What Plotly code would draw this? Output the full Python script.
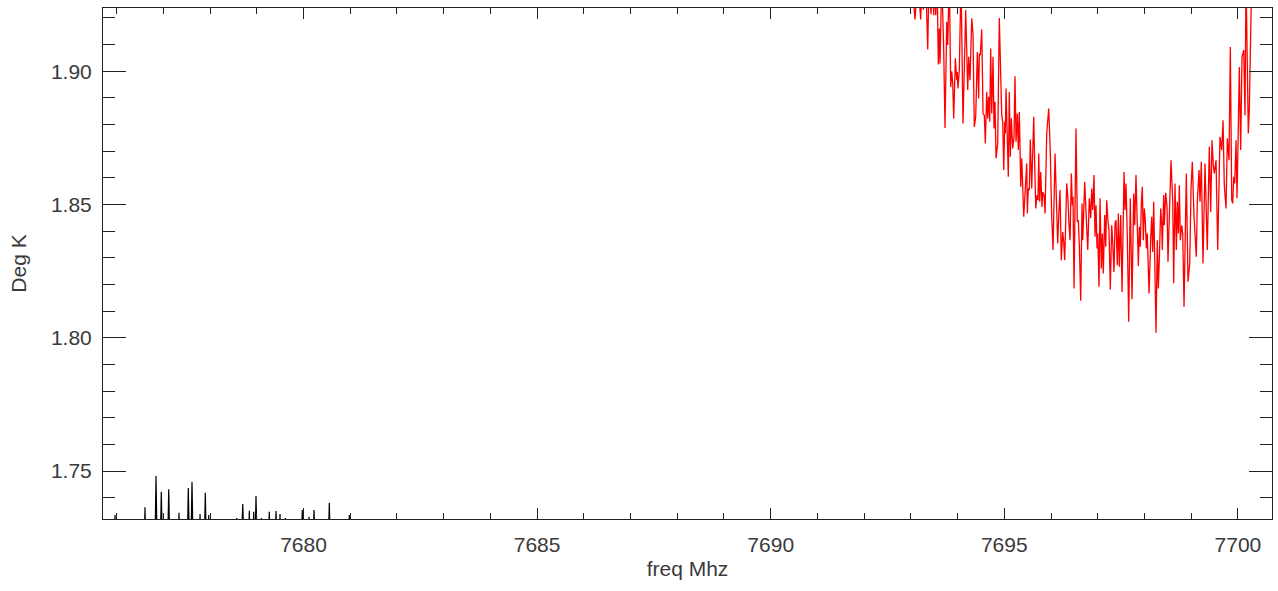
import plotly.graph_objects as go

# ---- data ----
red_freq = [
    7693.018, 7693.089, 7693.147, 7693.211, 7693.239, 7693.267, 7693.318, 7693.361, 7693.389, 7693.432,
    7693.459, 7693.489, 7693.511, 7693.532, 7693.560, 7693.588, 7693.609, 7693.624, 7693.661, 7693.703,
    7693.731, 7693.768, 7693.789, 7693.823, 7693.853, 7693.875, 7693.896, 7693.917, 7693.952, 7693.982,
    7693.994, 7694.009, 7694.037, 7694.074, 7694.116, 7694.174, 7694.217, 7694.238, 7694.266, 7694.303,
    7694.330, 7694.358, 7694.388, 7694.423, 7694.452, 7694.465, 7694.487, 7694.517, 7694.545, 7694.572,
    7694.594, 7694.624, 7694.645, 7694.667, 7694.688, 7694.709, 7694.731, 7694.759, 7694.780, 7694.801,
    7694.823, 7694.859, 7694.893, 7694.945, 7694.966, 7694.988, 7695.009, 7695.022, 7695.037, 7695.058,
    7695.086, 7695.107, 7695.129, 7695.150, 7695.180, 7695.208, 7695.229, 7695.251, 7695.279, 7695.300,
    7695.322, 7695.351, 7695.373, 7695.416, 7695.444, 7695.480, 7695.493, 7695.514, 7695.536, 7695.557,
    7695.587, 7695.630, 7695.651, 7695.673, 7695.700, 7695.722, 7695.737, 7695.758, 7695.780, 7695.807,
    7695.822, 7695.850, 7695.872, 7695.908, 7695.951, 7695.985, 7696.015, 7696.043, 7696.086, 7696.113,
    7696.143, 7696.171, 7696.193, 7696.220, 7696.250, 7696.272, 7696.293, 7696.336, 7696.364, 7696.385,
    7696.407, 7696.435, 7696.456, 7696.471, 7696.492, 7696.535, 7696.563, 7696.584, 7696.606, 7696.636,
    7696.664, 7696.679, 7696.700, 7696.721, 7696.786, 7696.820, 7696.850, 7696.871, 7696.893, 7696.920,
    7696.942, 7696.963, 7696.985, 7697.000, 7697.027, 7697.049, 7697.077, 7697.098, 7697.119, 7697.149,
    7697.171, 7697.192, 7697.220, 7697.241, 7697.269, 7697.299, 7697.321, 7697.348, 7697.370, 7697.391,
    7697.419, 7697.441, 7697.462, 7697.492, 7697.520, 7697.563, 7697.584, 7697.605, 7697.633, 7697.663,
    7697.697, 7697.734, 7697.770, 7697.792, 7697.819, 7697.847, 7697.869, 7697.890, 7697.911, 7697.933,
    7697.954, 7697.976, 7697.997, 7698.018, 7698.040, 7698.061, 7698.098, 7698.134, 7698.155, 7698.177,
    7698.198, 7698.220, 7698.247, 7698.275, 7698.297, 7698.318, 7698.348, 7698.369, 7698.382, 7698.412,
    7698.425, 7698.455, 7698.483, 7698.504, 7698.532, 7698.568, 7698.605, 7698.626, 7698.654, 7698.682,
    7698.703, 7698.725, 7698.746, 7698.768, 7698.797, 7698.819, 7698.847, 7698.896, 7698.932, 7698.969,
    7698.997, 7699.024, 7699.061, 7699.110, 7699.131, 7699.168, 7699.189, 7699.217, 7699.253, 7699.296,
    7699.345, 7699.388, 7699.418, 7699.446, 7699.474, 7699.495, 7699.532, 7699.568, 7699.617, 7699.654,
    7699.682, 7699.709, 7699.746, 7699.774, 7699.810, 7699.838, 7699.868, 7699.889, 7699.911, 7699.932,
    7699.960, 7699.981, 7700.009, 7700.030, 7700.060, 7700.088, 7700.125, 7700.152, 7700.174, 7700.195,
    7700.223, 7700.244, 7700.296,
]

red_temp = [
    1.935, 1.9194, 1.935, 1.9194, 1.935, 1.9231, 1.935, 1.9081, 1.935, 1.9214,
    1.935, 1.9210, 1.935, 1.9210, 1.935, 1.9025, 1.9160, 1.9029, 1.935, 1.9079,
    1.8787, 1.9185, 1.9098, 1.935, 1.8941, 1.9000, 1.8954, 1.8823, 1.9048, 1.8966,
    1.8997, 1.8935, 1.9004, 1.935, 1.8804, 1.9229, 1.8929, 1.9054, 1.8966, 1.9198,
    1.9141, 1.8791, 1.8829, 1.9072, 1.8898, 1.9066, 1.9060, 1.9156, 1.8841, 1.8835,
    1.8729, 1.8922, 1.8823, 1.8904, 1.8810, 1.9085, 1.8841, 1.9054, 1.8785, 1.8885,
    1.8673, 1.8729, 1.9199, 1.8835, 1.8810, 1.8629, 1.8810, 1.8766, 1.8935, 1.8823,
    1.8604, 1.8922, 1.8679, 1.8823, 1.8710, 1.8754, 1.8981, 1.8735, 1.8841, 1.8704,
    1.8847, 1.8566, 1.8673, 1.8454, 1.8566, 1.8654, 1.8466, 1.8560, 1.8554, 1.8744,
    1.8560, 1.8829, 1.8654, 1.8485, 1.8535, 1.8516, 1.8691, 1.8510, 1.8622, 1.8491,
    1.8547, 1.8535, 1.8466, 1.8766, 1.8860, 1.8691, 1.8454, 1.8329, 1.8691, 1.8516,
    1.8354, 1.8479, 1.8554, 1.8291, 1.8397, 1.8360, 1.8291, 1.8579, 1.8516, 1.8422,
    1.8366, 1.8616, 1.8497, 1.8529, 1.8185, 1.8785, 1.8435, 1.8441, 1.8347, 1.8139,
    1.8504, 1.8366, 1.8479, 1.8585, 1.8329, 1.8523, 1.8448, 1.8560, 1.8479, 1.8610,
    1.8379, 1.8497, 1.8335, 1.8391, 1.8191, 1.8523, 1.8260, 1.8391, 1.8241, 1.8460,
    1.8341, 1.8516, 1.8435, 1.8404, 1.8181, 1.8422, 1.8354, 1.8247, 1.8429, 1.8441,
    1.8272, 1.8466, 1.8266, 1.8460, 1.8172, 1.8622, 1.8479, 1.8579, 1.8379, 1.8060,
    1.8523, 1.8144, 1.8541, 1.8422, 1.8610, 1.8416, 1.8269, 1.8416, 1.8341, 1.8504,
    1.8566, 1.8366, 1.8485, 1.8441, 1.8335, 1.8391, 1.8166, 1.8373, 1.8454, 1.8322,
    1.8510, 1.8291, 1.8019, 1.8366, 1.8185, 1.8291, 1.8485, 1.8429, 1.8329, 1.8535,
    1.8422, 1.8544, 1.8491, 1.8285, 1.8504, 1.8666, 1.8516, 1.8204, 1.8579, 1.8329,
    1.8510, 1.8391, 1.8572, 1.8366, 1.8422, 1.8391, 1.8116, 1.8616, 1.8210, 1.8279,
    1.8560, 1.8660, 1.8454, 1.8304, 1.8510, 1.8629, 1.8510, 1.8660, 1.8279, 1.8654,
    1.8329, 1.8716, 1.8472, 1.8741, 1.8647, 1.8616, 1.8666, 1.8329, 1.8754, 1.8704,
    1.8816, 1.8572, 1.8485, 1.8748, 1.8666, 1.9091, 1.8516, 1.8504, 1.8604, 1.8579,
    1.8741, 1.8523, 1.8791, 1.9016, 1.8704, 1.9054, 1.9079, 1.8835, 1.935, 1.9016,
    1.8766, 1.8854, 1.935,
]

black_freq = [
    7675.945, 7675.965, 7675.985, 7676.587, 7676.607, 7676.627, 7676.818, 7676.843, 7676.868,
    7676.931, 7676.956, 7676.981, 7677.090, 7677.115, 7677.140, 7677.315, 7677.335, 7677.355,
    7677.509, 7677.534, 7677.559, 7677.588, 7677.613, 7677.638, 7677.765, 7677.785, 7677.805,
    7677.873, 7677.898, 7677.923, 7677.951, 7677.971, 7677.991, 7678.545, 7678.570, 7678.595,
    7678.664, 7678.699, 7678.734, 7678.815, 7678.840, 7678.865, 7678.909, 7678.934, 7678.959,
    7678.955, 7678.983, 7679.011, 7679.077, 7679.097, 7679.117, 7679.243, 7679.268, 7679.293,
    7679.386, 7679.411, 7679.436, 7679.477, 7679.497, 7679.517, 7679.591, 7679.611, 7679.631,
    7679.949, 7679.974, 7679.999, 7680.098, 7680.118, 7680.138, 7680.195, 7680.225, 7680.255,
    7680.527, 7680.552, 7680.577, 7680.960, 7680.980, 7681.000,
]

black_temp = [
    1.72, 1.7335, 1.72, 1.72, 1.7364, 1.72, 1.72, 1.7481, 1.72,
    1.72, 1.7422, 1.72, 1.72, 1.7432, 1.72, 1.72, 1.7343, 1.72,
    1.72, 1.7436, 1.72, 1.72, 1.7460, 1.72, 1.72, 1.7339, 1.72,
    1.72, 1.7418, 1.72, 1.72, 1.7335, 1.72, 1.72, 1.7324, 1.72,
    1.72, 1.7376, 1.72, 1.72, 1.7351, 1.72, 1.72, 1.7347, 1.72,
    1.72, 1.7406, 1.72, 1.72, 1.7324, 1.72, 1.72, 1.7347, 1.72,
    1.72, 1.7350, 1.72, 1.72, 1.7339, 1.72, 1.72, 1.7324, 1.72,
    1.72, 1.7354, 1.72, 1.72, 1.7328, 1.72, 1.72, 1.7354, 1.72,
    1.72, 1.7381, 1.72, 1.72, 1.7335, 1.72,
]

x_range = [7675.708, 7700.73]
y_range = [1.732, 1.9237]

FONT = "Liberation Sans"
TXT = "#3a3a3a"
AX = "#222222"

fig = go.Figure()
fig.add_trace(go.Scatter(x=black_freq, y=black_temp, mode="lines",
                         line=dict(color="black", width=1.2), showlegend=False,
                         hoverinfo="skip"))
fig.add_trace(go.Scatter(x=red_freq, y=red_temp, mode="lines",
                         line=dict(color="#ff0000", width=1.3), showlegend=False))

fig.update_layout(
    width=1278, height=591, autosize=False,
    margin=dict(l=103, r=6, t=8, b=72),
    paper_bgcolor="white", plot_bgcolor="white",
    font=dict(family=FONT, size=21, color=TXT),
    showlegend=False,
)
fig.update_xaxes(
    range=x_range, showgrid=False, zeroline=False,
    showline=True, linecolor=AX, linewidth=1, mirror="allticks",
    ticks="inside", ticklen=11, tickwidth=1, tickcolor=AX,
    tick0=7680, dtick=5, tickformat="d",
    minor=dict(ticks="inside", ticklen=6, tickwidth=1, tickcolor=AX, dtick=1, tick0=7680, showgrid=False),
    tickfont=dict(family=FONT, size=21, color=TXT),
    ticklabelstandoff=7,
    title=dict(text="freq Mhz", font=dict(family=FONT, size=21, color=TXT), standoff=6),
)
fig.update_yaxes(
    range=y_range, showgrid=False, zeroline=False,
    showline=True, linecolor=AX, linewidth=1, mirror="allticks",
    ticks="inside", ticklen=23, tickwidth=1, tickcolor=AX,
    tick0=1.75, dtick=0.05, tickformat=".2f",
    minor=dict(ticks="inside", ticklen=12, tickwidth=1, tickcolor=AX, dtick=0.01, tick0=1.75, showgrid=False),
    tickfont=dict(family=FONT, size=21, color=TXT),
    ticklabelstandoff=6,
    title=dict(text="Deg K", font=dict(family=FONT, size=21, color=TXT), standoff=18),
)

fig.write_html("out.html", config={"displayModeBar": False},
               post_script="document.body.style.margin='0';document.body.style.overflow='hidden';")
